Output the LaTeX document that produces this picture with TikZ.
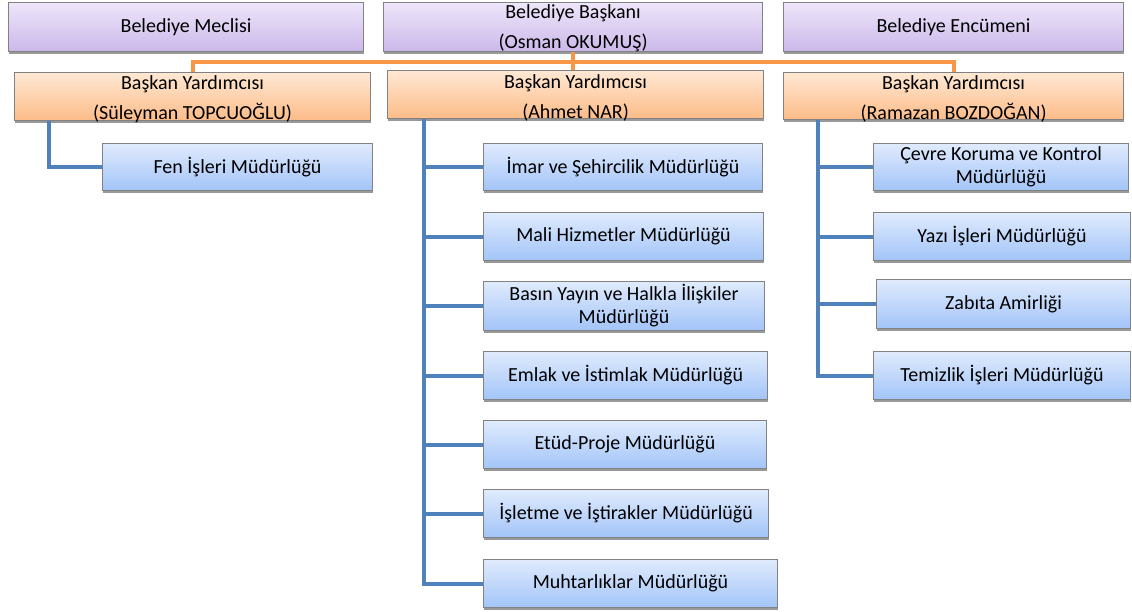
\documentclass[tikz,border=0pt]{standalone}
\usepackage{fontspec}
\setmainfont{Carlito}
\usetikzlibrary{shadows}
\definecolor{pTop}{RGB}{238,230,250}
\definecolor{pBot}{RGB}{203,184,234}
\definecolor{oTop}{RGB}{255,232,212}
\definecolor{oBot}{RGB}{252,188,136}
\definecolor{bTop}{RGB}{224,235,253}
\definecolor{bBot}{RGB}{162,196,248}
\definecolor{oLine}{RGB}{247,150,70}
\definecolor{bLine}{RGB}{79,129,189}
\definecolor{frameC}{RGB}{130,130,130}
\tikzset{
  boxbase/.style={draw=frameC, line width=1.1pt, inner sep=0pt, align=center, anchor=north west,
    drop shadow={shadow xshift=0.8pt, shadow yshift=-2pt, opacity=0.4, fill=black}},
  purplebox/.style={boxbase, top color=pTop, bottom color=pBot, font=\fontsize{20}{30}\selectfont},
  orangebox/.style={boxbase, top color=oTop, bottom color=oBot, font=\fontsize{20}{30}\selectfont},
  bluebox/.style={boxbase, top color=bTop, bottom color=bBot, font=\fontsize{20}{23}\selectfont},
  twoline/.style={inner sep=0pt, align=center, font=\fontsize{20}{30}\selectfont},
  oline/.style={draw=oLine, line width=4pt},
  bline/.style={draw=bLine, line width=4pt},
}
\begin{document}
\begin{tikzpicture}[x=1pt,y=1pt]
\useasboundingbox (0,0) rectangle (1132,-612);
% top row
\node[purplebox, minimum width=355pt, minimum height=49pt] (meclis) at (8,-2) {Belediye Meclisi};
\node[purplebox, minimum width=379pt, minimum height=49pt] (baskan) at (383,-2) {};
\node[twoline] (baskant) at ([yshift=-1.5pt]baskan.center) {Belediye Başkanı\\(Osman OKUMUŞ)};
\node[purplebox, minimum width=340pt, minimum height=49pt] (encumen) at (783,-2) {Belediye Encümeni};
% deputies
\node[orangebox, minimum width=356pt, minimum height=48pt] (y1) at (14,-72) {};
\node[twoline] (y1t) at ([yshift=-3pt]y1.center) {Başkan Yardımcısı\\(Süleyman TOPCUOĞLU)};
\node[orangebox, minimum width=376pt, minimum height=48pt] (y2) at (387,-70) {};
\node[twoline] (y2t) at ([yshift=-3pt]y2.center) {Başkan Yardımcısı\\(Ahmet NAR)};
\node[orangebox, minimum width=340pt, minimum height=47pt] (y3) at (783,-72) {};
\node[twoline] (y3t) at ([yshift=-3pt]y3.center) {Başkan Yardımcısı\\(Ramazan BOZDOĞAN)};
% left column
\node[bluebox, minimum width=270pt, minimum height=47pt] (fen) at (102,-143) {Fen İşleri Müdürlüğü};
% middle column
\node[bluebox, minimum width=279pt, minimum height=47pt] (imar) at (483,-143) {İmar ve Şehircilik Müdürlüğü};
\node[bluebox, minimum width=280pt, minimum height=48pt] (mali) at (483,-212) {Mali Hizmetler Müdürlüğü};
\node[bluebox, minimum width=281pt, minimum height=49pt] (basin) at (483,-281) {Basın Yayın ve Halkla İlişkiler\\Müdürlüğü};
\node[bluebox, minimum width=284pt, minimum height=48pt] (emlak) at (483,-351) {Emlak ve İstimlak Müdürlüğü};
\node[bluebox, minimum width=283pt, minimum height=48pt] (etud) at (483,-420) {Etüd-Proje Müdürlüğü};
\node[bluebox, minimum width=285pt, minimum height=48pt] (isletme) at (483,-489) {İşletme ve İştirakler Müdürlüğü};
\node[bluebox, minimum width=294pt, minimum height=48pt] (muhtar) at (483,-559) {Muhtarlıklar Müdürlüğü};
% right column
\node[bluebox, minimum width=255pt, minimum height=47pt] (cevre) at (873,-143) {Çevre Koruma ve Kontrol\\Müdürlüğü};
\node[bluebox, minimum width=257pt, minimum height=48pt] (yazi) at (873,-212) {Yazı İşleri Müdürlüğü};
\node[bluebox, minimum width=254pt, minimum height=49pt] (zabita) at (876,-279) {Zabıta Amirliği};
\node[bluebox, minimum width=257pt, minimum height=48pt] (temizlik) at (873,-351) {Temizlik İşleri Müdürlüğü};
% orange connectors
\draw[oline] (baskan.south) -- (baskan.south |- y2.north);
\draw[oline] (y1.north) -- ++(0,10) -| (y3.north);
% blue connectors
\draw[bline] ([xshift=35pt]y1.south west) |- (fen.west);
\foreach \b in {imar,mali,basin,emlak,etud,isletme,muhtar}
  \draw[bline] ([xshift=37pt]y2.south west) |- (\b.west);
\foreach \b in {cevre,yazi,zabita,temizlik}
  \draw[bline] ([xshift=35pt]y3.south west) |- (\b.west);
\end{tikzpicture}
\end{document}
